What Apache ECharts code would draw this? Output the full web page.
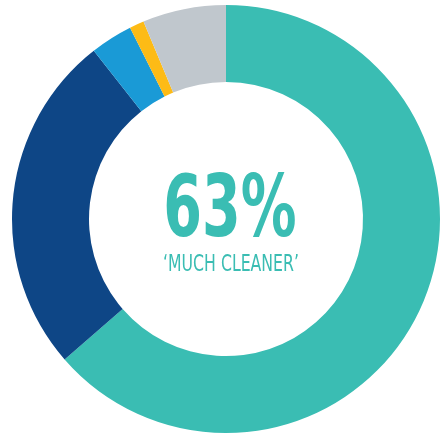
<!DOCTYPE html>
<html>
<head>
<meta charset="utf-8">
<script src="https://cdn.jsdelivr.net/npm/echarts@6/dist/echarts.min.js"></script>
<style>
  html, body { margin: 0; padding: 0; background: #fff; }
  #chart { width: 440px; height: 434px; }
</style>
</head>
<body>
<div id="chart"></div>
<script>
var categories = ['Much cleaner', 'Somewhat cleaner', 'No change', 'Less clean', 'Not sure'];
var values = [63.6, 25.8, 3.2, 1.1, 6.3];
var colors = ['#3abdb3', '#0e4686', '#1a9ad6', '#fdbb16', '#c0c7cd'];
var headline = '63%';
var caption = '\u2018MUCH CLEANER\u2019';

var narrow = '"DejaVu Sans Condensed", "Liberation Sans Narrow", sans-serif';

var chart = echarts.init(document.getElementById('chart'), null, { renderer: 'canvas' });
chart.setOption({
  animation: false,
  series: [{
    type: 'pie',
    center: [226, 219],
    radius: [137, 214],
    startAngle: 90,
    clockwise: true,
    label: { show: false },
    labelLine: { show: false },
    emphasis: { disabled: true },
    itemStyle: { borderWidth: 0 },
    data: categories.map(function(c, i) {
      return { name: c, value: values[i], itemStyle: { color: colors[i] } };
    })
  }],
  graphic: [
    {
      type: 'text',
      x: 230, y: 214,
      scaleX: 0.72,
      style: {
        text: headline,
        fill: '#3abdb3',
        fontFamily: narrow,
        fontSize: 86,
        fontWeight: 'bold',
        align: 'center',
        verticalAlign: 'middle'
      }
    },
    {
      type: 'text',
      x: 231, y: 265,
      scaleX: 0.76,
      style: {
        text: caption,
        fill: '#3abdb3',
        fontFamily: narrow,
        fontSize: 23,
        align: 'center',
        verticalAlign: 'middle'
      }
    }
  ]
});
</script>
</body>
</html>
